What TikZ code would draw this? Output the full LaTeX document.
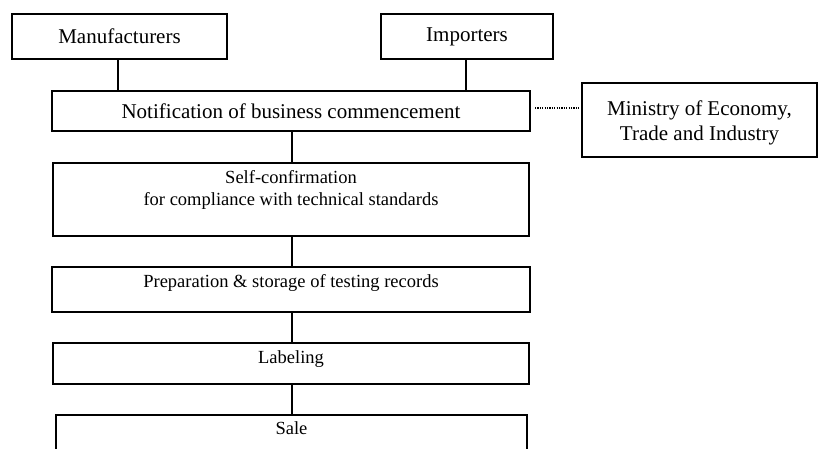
\documentclass[tikz,border=0pt]{standalone}
\usepackage{fontspec}
\setmainfont{Liberation Serif}
\usetikzlibrary{calc}
\begin{document}
\begin{tikzpicture}[x=1pt,y=-1pt,
  box/.style={draw=black, line width=1.1pt, inner sep=0pt, outer sep=0pt, rectangle},
  big/.style={font=\fontsize{21}{24.5}\selectfont, align=center, inner sep=0pt},
  small/.style={font=\fontsize{18.5}{22}\selectfont, align=center, inner sep=0pt},
  link/.style={draw=black, line width=1.1pt},
  dotlink/.style={draw=black, line width=1.1pt, dash pattern=on 1.1pt off 1.3pt}
]
\useasboundingbox (0,0) rectangle (818,448);
\clip (0,0) rectangle (818,448);

% top row
\node[box, big, minimum width=215pt, minimum height=45pt] (man) at (119.5,36.5) {Manufacturers};
\node[box, big, minimum width=172pt, minimum height=45pt] (imp) at (467,36.5) {Importers};

% notification
\node[box, big, minimum width=478pt, minimum height=40pt] (not) at (291,111) {Notification of business commencement};

% ministry
\node[box, minimum width=235pt, minimum height=74pt] (min) at (699.5,120) {};
\node[big] (mint) at (699.5,123) {Ministry of Economy,\\Trade and Industry};

% self-confirmation
\node[box, minimum width=476pt, minimum height=73pt] (sc) at (291,199.5) {};
\node[small] (sct) at (291,190) {Self-confirmation\\for compliance with technical standards};

% preparation
\node[box, minimum width=478pt, minimum height=45pt] (prep) at (291,289.5) {};
\node[small, anchor=base] (prept) at (291,287) {Preparation \& storage of testing records};

% labeling
\node[box, minimum width=476pt, minimum height=41pt] (lab) at (291,363.5) {};
\node[small, anchor=base] (labt) at (291,363) {Labeling};

% sale
\node[box, minimum width=471pt, minimum height=60pt] (sale) at (291.5,445) {};
\node[small, anchor=base] (salet) at (291.5,434) {Sale};

% connectors
\draw[link] ([xshift=-1.5pt]man.south) -- ([xshift=-1.5pt]man.south |- not.north);
\draw[link] ([xshift=-1pt]imp.south) -- ([xshift=-1pt]imp.south |- not.north);
\draw[link] ([xshift=1pt]not.south) -- ([xshift=1pt]not.south |- sc.north);
\draw[link] ([xshift=1pt]sc.south) -- ([xshift=1pt]sc.south |- prep.north);
\draw[link] ([xshift=1pt]prep.south) -- ([xshift=1pt]prep.south |- lab.north);
\draw[link] ([xshift=1pt]lab.south) -- ([xshift=1pt]lab.south |- sale.north);
\draw[dotlink] ($(not.east)+(5,-3)$) -- ($(min.west |- not.east)+(-2,-3)$);
\end{tikzpicture}
\end{document}
